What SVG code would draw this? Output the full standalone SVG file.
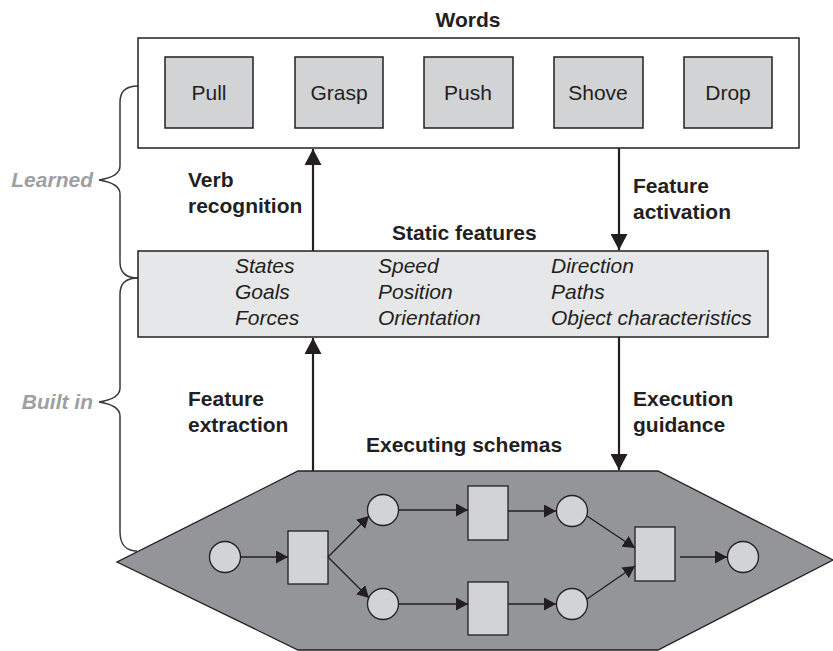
<svg xmlns="http://www.w3.org/2000/svg" width="833" height="651" viewBox="0 0 833 651">
<style>
text{font-family:"Liberation Sans",Arial,sans-serif;font-size:21px;fill:#231f20}
.b{font-weight:bold}
.i{font-style:italic}
.g{font-weight:bold;font-style:italic;fill:#9d9fa2}
.word{fill:#d1d3d4;stroke:#231f20;stroke-width:1.5}
.main{stroke:#231f20;stroke-width:2.2;fill:none}
.sm{stroke:#231f20;stroke-width:1.3;fill:none}
.place{fill:#d1d3d4;stroke:#231f20;stroke-width:1.3}
.brace{fill:none;stroke:#3a3a3a;stroke-width:1.5}
</style>
<defs>
<marker id="big" markerUnits="userSpaceOnUse" markerWidth="17" markerHeight="17" refX="16" refY="8.5" orient="auto" viewBox="0 0 17 17">
<path d="M0,0 L16,8.5 L0,17 z" fill="#231f20"/>
</marker>
<marker id="small" markerUnits="userSpaceOnUse" markerWidth="13" markerHeight="13" refX="12" refY="6.5" orient="auto" viewBox="0 0 13 13">
<path d="M0,0 L12,6.5 L0,13 z" fill="#231f20"/>
</marker>
</defs>

<g id="braces">
<path class="brace" d="M138,86 C126,86 120,92 120,102 L120,166 C120,174 112,178 99,180 C112,182 120,186 120,194 L120,262 C120,272 126,278 138,278"/>
<path class="brace" d="M138,278 C126,278 120,284 120,294 L120,388 C120,396 112,400 99,402 C112,404 120,408 120,416 L120,532 C120,544 126,551 137,551"/>
<text class="g" x="93" y="187" text-anchor="end">Learned</text>
<text class="g" x="93" y="409" text-anchor="end">Built in</text>
</g>

<g id="words">
<text class="b" x="468" y="27" text-anchor="middle">Words</text>
<rect x="138" y="38" width="661" height="110" fill="#fff" stroke="#231f20" stroke-width="1.5"/>
<g id="w-pull"><rect class="word" x="165" y="57" width="88" height="71"/><text x="209" y="100" text-anchor="middle">Pull</text></g>
<g id="w-grasp"><rect class="word" x="295" y="57" width="88" height="71"/><text x="339" y="100" text-anchor="middle">Grasp</text></g>
<g id="w-push"><rect class="word" x="424" y="57" width="89" height="71"/><text x="468" y="100" text-anchor="middle">Push</text></g>
<g id="w-shove"><rect class="word" x="554" y="57" width="89" height="71"/><text x="598" y="100" text-anchor="middle">Shove</text></g>
<g id="w-drop"><rect class="word" x="684" y="57" width="88" height="71"/><text x="728" y="100" text-anchor="middle">Drop</text></g>
</g>

<g id="static">
<text class="b" x="392" y="240">Static features</text>
<rect x="138" y="251" width="630" height="86" fill="#e6e7e8" stroke="#231f20" stroke-width="1.5"/>
<text class="i" x="235" y="273">States</text>
<text class="i" x="235" y="299">Goals</text>
<text class="i" x="235" y="325">Forces</text>
<text class="i" x="378" y="273">Speed</text>
<text class="i" x="378" y="299">Position</text>
<text class="i" x="378" y="325">Orientation</text>
<text class="i" x="551" y="273">Direction</text>
<text class="i" x="551" y="299">Paths</text>
<text class="i" x="551" y="325">Object characteristics</text>
</g>

<g id="schemas">
<text class="b" x="366" y="452">Executing schemas</text>
<polygon points="298,471 658,471 833,560 658,650 298,650 117,562" fill="#939598" stroke="#231f20" stroke-width="1.3"/>
<circle class="place" cx="225" cy="557" r="15.5"/>
<rect class="place" x="288" y="531" width="40" height="53"/>
<circle class="place" cx="383" cy="510" r="15.5"/>
<circle class="place" cx="383" cy="604" r="15.5"/>
<rect class="place" x="468" y="486" width="40" height="54"/>
<rect class="place" x="468" y="582" width="40" height="53"/>
<circle class="place" cx="572" cy="511" r="15.5"/>
<circle class="place" cx="572" cy="604" r="15.5"/>
<rect class="place" x="635" y="527" width="40" height="54"/>
<circle class="place" cx="743" cy="557" r="15.5"/>
</g>

<g id="connectors">
<line class="main" x1="313" y1="251" x2="313" y2="149" marker-end="url(#big)"/>
<line class="main" x1="619" y1="148" x2="619" y2="250" marker-end="url(#big)"/>
<line class="main" x1="313" y1="471" x2="313" y2="338" marker-end="url(#big)"/>
<line class="main" x1="619" y1="337" x2="619" y2="470" marker-end="url(#big)"/>
<line class="sm" x1="241" y1="557" x2="288" y2="557" marker-end="url(#small)"/>
<line class="sm" x1="328" y1="557" x2="369" y2="516" marker-end="url(#small)"/>
<line class="sm" x1="328" y1="557" x2="369" y2="598" marker-end="url(#small)"/>
<line class="sm" x1="399" y1="510" x2="468" y2="510" marker-end="url(#small)"/>
<line class="sm" x1="399" y1="604" x2="468" y2="604" marker-end="url(#small)"/>
<line class="sm" x1="508" y1="511" x2="556" y2="511" marker-end="url(#small)"/>
<line class="sm" x1="508" y1="604" x2="556" y2="604" marker-end="url(#small)"/>
<line class="sm" x1="587" y1="516" x2="635" y2="548" marker-end="url(#small)"/>
<line class="sm" x1="587" y1="599" x2="635" y2="566" marker-end="url(#small)"/>
<line class="sm" x1="680" y1="557" x2="727" y2="557" marker-end="url(#small)"/>
</g>

<g id="labels">
<text class="b" x="188" y="187">Verb</text>
<text class="b" x="188" y="213">recognition</text>
<text class="b" x="633" y="193">Feature</text>
<text class="b" x="633" y="219">activation</text>
<text class="b" x="188" y="406">Feature</text>
<text class="b" x="188" y="432">extraction</text>
<text class="b" x="633" y="406">Execution</text>
<text class="b" x="633" y="432">guidance</text>
</g>
</svg>
